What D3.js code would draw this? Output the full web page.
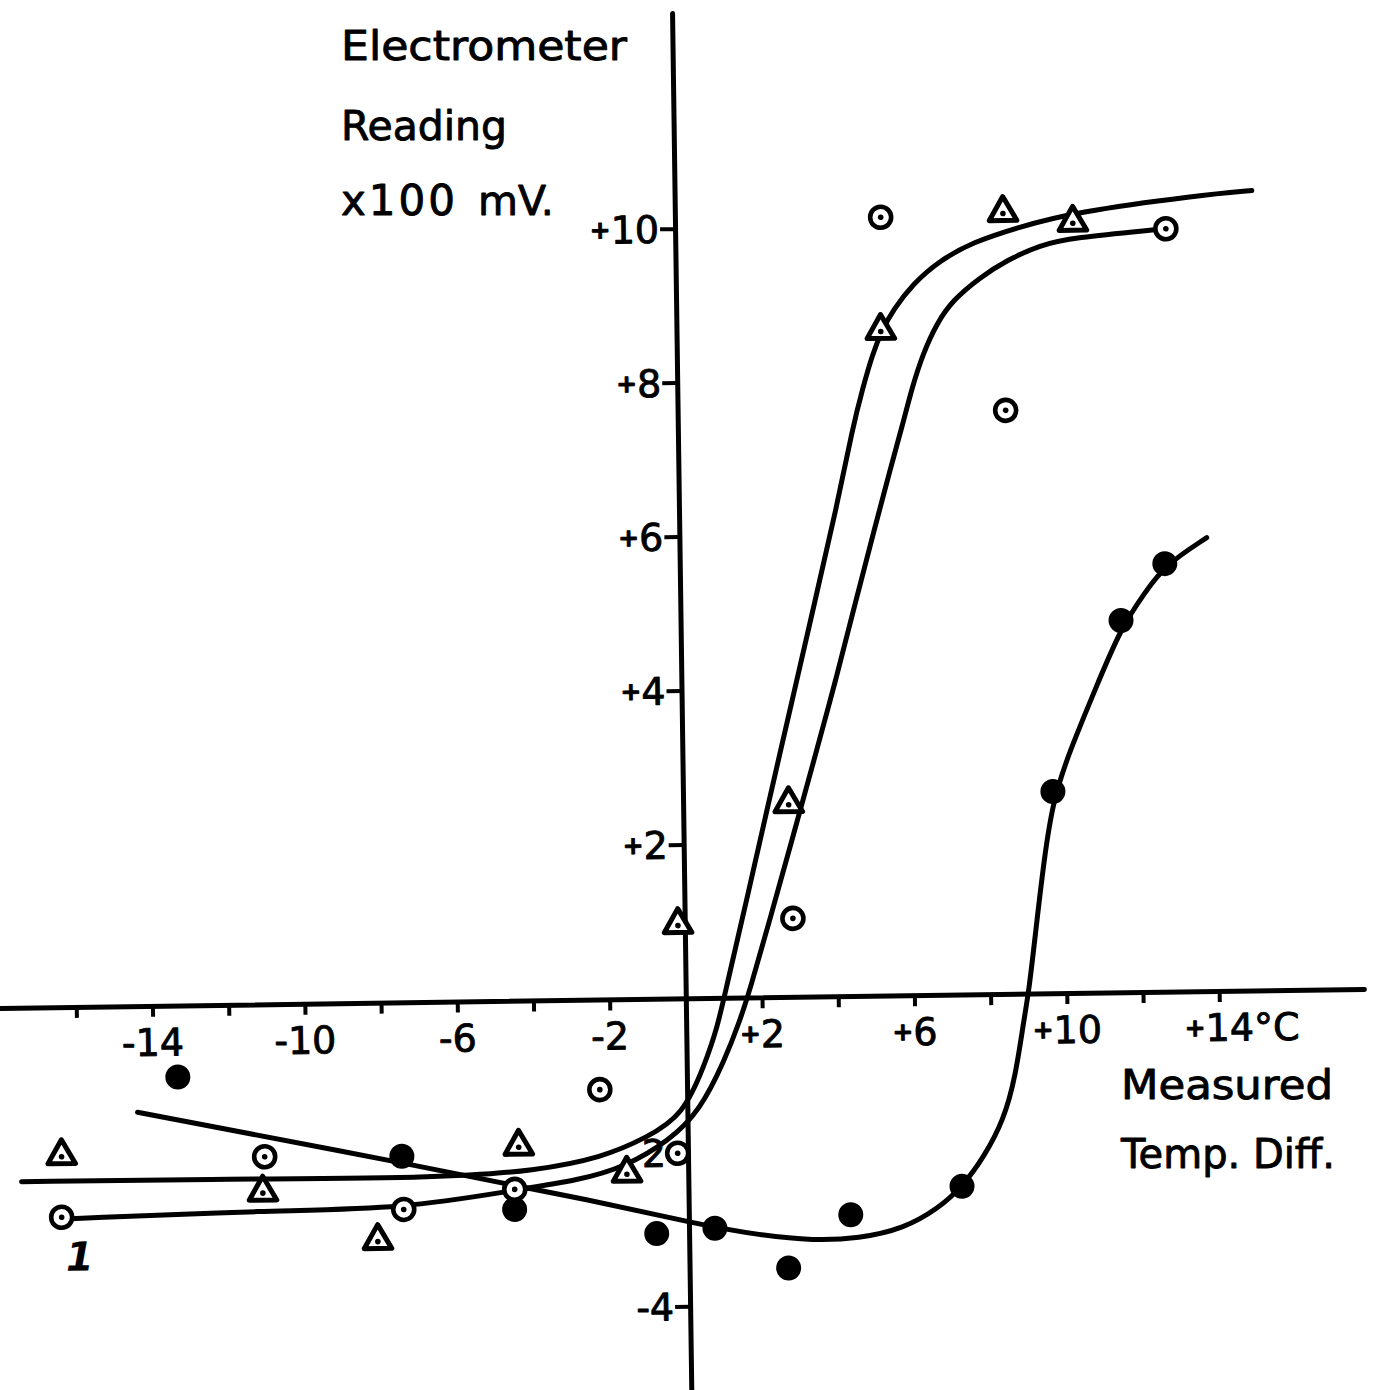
<!DOCTYPE html>
<html>
<head>
<meta charset="utf-8">
<script src="https://cdn.jsdelivr.net/npm/d3@7"></script>
<style>
  html, body { margin: 0; padding: 0; background: #fff; }
  svg { display: block; }
</style>
</head>
<body>
<svg id="chart" width="1373" height="1390"></svg>
<script>
// Electrometer reading (x100 mV) against measured temperature difference (°C)

// Triangle series
const triT = [-16.44, -11.17, -8.17, -4.44, -1.61, -0.18, 2.77, 5.36, 8.61, 10.44];
const triV = [-1.93, -2.44, -3.09, -1.89, -2.26, 0.96, 2.51, 8.64, 10.15, 10.01];

// Open-circle series
const ringT = [-16.46, -11.11, -7.48, -4.56, -2.29, -0.27, 2.84, 5.40, 8.61, 12.88];
const ringV = [-2.73, -1.98, -2.69, -2.45, -1.17, -2.01, 1.02, 10.11, 7.58, 9.91];

// Filled-circle series
const dotT = [-13.36, -7.51, -4.57, -0.85, 0.68, 2.60, 4.25, 7.18, 9.71, 11.56, 12.73];
const dotV = [-0.93, -2.00, -2.71, -3.05, -2.99, -3.52, -2.84, -2.49, 2.62, 4.83, 5.56];

// Hand-drawn fitted curves (points along each curve)
const fitA_T = [-17.50, -12.82, -6.37, -4.00, -2.24, -1.07, -0.12, 0.47, 0.83, 1.05, 1.63, 2.26, 2.90, 3.54, 4.12, 4.59, 4.87, 5.14, 5.39, 5.69, 6.22, 6.94, 7.81, 8.97, 10.45, 13.79, 15.15];
const fitA_V = [-2.26, -2.26, -2.29, -2.21, -2.05, -1.80, -1.52, -0.87, -0.36, 0.10, 1.26, 2.56, 3.85, 5.15, 6.31, 7.39, 7.90, 8.34, 8.64, 8.90, 9.24, 9.54, 9.77, 9.95, 10.14, 10.34, 10.39];

const fitB_T = [-16.22, -11.05, -7.48, -4.56, -2.85, -1.66, -0.47, 0.33, 1.00, 1.41, 1.68, 2.23, 2.84, 3.45, 4.05, 4.61, 5.11, 5.55, 5.91, 6.16, 6.46, 6.83, 7.26, 7.98, 8.70, 9.57, 10.44, 12.64];
const fitB_V = [-2.75, -2.68, -2.68, -2.46, -2.34, -2.18, -1.84, -1.46, -0.81, -0.30, 0.09, 1.00, 2.03, 3.07, 4.10, 5.14, 6.04, 6.82, 7.43, 7.89, 8.33, 8.72, 9.02, 9.31, 9.53, 9.72, 9.81, 9.90];

const fitC_T = [-14.43, -7.04, -2.33, 0.28, 1.86, 3.27, 4.45, 5.64, 6.56, 7.18, 7.76, 8.30, 8.63, 8.86, 9.01, 9.21, 9.45, 9.71, 10.17, 10.85, 11.55, 12.20, 12.73, 13.84];
const fitC_V = [-1.38, -2.13, -2.63, -2.94, -3.09, -3.17, -3.15, -3.03, -2.77, -2.50, -2.12, -1.64, -1.06, -0.35, 0.04, 0.82, 1.73, 2.51, 3.15, 3.93, 4.73, 5.19, 5.54, 5.89];

// Axis ticks and labels
const xTickVals = [-16, -14, -12, -10, -8, -6, -4, -2, 2, 4, 6, 8, 10, 12, 14];
const xLabelVals = [-14, -10, -6, -2, 2, 6, 10, 14];
const xLabelText = ["-14", "-10", "-6", "-2", "+2", "+6", "+10", "+14°C"];
const yTickVals = [10, 8, 6, 4, 2, -2, -4];
const yLabelText = ["+10", "+8", "+6", "+4", "+2", "2", "-4"];

const yTitleLines = ["Electrometer", "Reading"];
const yUnitParts = ["x100", "mV."];
const xTitleLines = ["Measured", "Temp. Diff."];
const seriesTag = "1";

const FONT = "'DejaVu Sans', 'Liberation Sans', sans-serif";
const INK = "#000";

const svg = d3.select("#chart");
svg.append("rect").attr("width", 1373).attr("height", 1390).attr("fill", "#fff");

const x = d3.scaleLinear().domain([-18, 17.8]).range([0, 1364]);
const y = d3.scaleLinear().domain([-5.1, 12.8]).range([1391, 13]);

// the plotted frame sits slightly rotated on the sheet
const plot = svg.append("g")
  .attr("transform", `rotate(-0.8, ${x(0)}, ${y(0)})`);

// axes
const xAxis = plot.append("g")
  .attr("transform", `translate(0,${y(0)})`)
  .call(d3.axisBottom(x).tickValues(xTickVals).tickSize(11).tickSizeOuter(0).tickFormat(() => ""));
const yAxis = plot.append("g")
  .attr("transform", `translate(${x(0)},0)`)
  .call(d3.axisLeft(y).tickValues(yTickVals).tickSize(15).tickSizeOuter(0).tickFormat(() => ""));
[xAxis, yAxis].forEach(a => {
  a.select(".domain").attr("stroke", INK).attr("stroke-width", 5).attr("stroke-linecap", "round");
  a.selectAll(".tick line").attr("stroke", INK).attr("stroke-width", 4);
  a.selectAll(".tick text").remove();
});

// lettering style: slightly heavier than the regular face
function letter(sel) {
  return sel.attr("font-family", FONT).attr("fill", INK)
    .attr("stroke", INK).attr("stroke-width", 0.9).attr("stroke-linejoin", "round");
}

// label builder: a small bold plus sign ahead of the digits
function fillLabel(sel, txt) {
  sel.text(null);
  if (txt.startsWith("+")) {
    sel.append("tspan").attr("font-size", 25).attr("font-weight", "bold").attr("dy", -5).text("+");
    sel.append("tspan").attr("dy", 5).text(txt.slice(1));
  } else {
    sel.text(txt);
  }
}

const xLabels = letter(plot.append("g")).attr("font-size", 38);
xLabelVals.forEach((v, i) => {
  const t = xLabels.append("text").attr("y", y(0) + 50);
  if (xLabelText[i].includes("°")) {
    t.attr("x", x(v) - 35).attr("text-anchor", "start");
  } else {
    t.attr("x", x(v)).attr("text-anchor", "middle");
  }
  fillLabel(t, xLabelText[i]);
});

const yLabels = letter(plot.append("g")).attr("font-size", 38);
yTickVals.forEach((v, i) => {
  const t = yLabels.append("text")
    .attr("x", x(0) - (v === -2 ? 22 : 16))
    .attr("y", y(v) + 14)
    .attr("text-anchor", "end");
  fillLabel(t, yLabelText[i]);
});

// fitted curves
const line = d3.line()
  .x(d => x(d[0])).y(d => y(d[1]))
  .curve(d3.curveBasis);
const curves = [
  d3.zip(fitA_T, fitA_V),
  d3.zip(fitB_T, fitB_V),
  d3.zip(fitC_T, fitC_V)
];
plot.append("g").selectAll("path")
  .data(curves)
  .join("path")
  .attr("d", line)
  .attr("fill", "none")
  .attr("stroke", INK)
  .attr("stroke-width", 5)
  .attr("stroke-linecap", "round")
  .attr("stroke-linejoin", "round");

// filled circles
plot.append("g").selectAll("circle")
  .data(d3.zip(dotT, dotV))
  .join("circle")
  .attr("cx", d => x(d[0])).attr("cy", d => y(d[1]))
  .attr("r", 12.5)
  .attr("fill", INK);

// triangles with a centre dot
const triSym = d3.symbol().type(d3.symbolTriangle).size(330);
const triG = plot.append("g").selectAll("g")
  .data(d3.zip(triT, triV))
  .join("g")
  .attr("transform", d => `translate(${x(d[0])},${y(d[1])})`);
triG.append("path")
  .attr("d", triSym())
  .attr("fill", "#fff")
  .attr("stroke", INK)
  .attr("stroke-width", 5)
  .attr("stroke-linejoin", "round");
triG.append("circle").attr("r", 2.8).attr("cy", 1).attr("fill", INK);

// open circles with a centre dot
const ringG = plot.append("g").selectAll("g")
  .data(d3.zip(ringT, ringV))
  .join("g")
  .attr("transform", d => `translate(${x(d[0])},${y(d[1])})`);
ringG.append("circle")
  .attr("r", 10.5)
  .attr("fill", "#fff")
  .attr("stroke", INK)
  .attr("stroke-width", 4.6);
ringG.append("circle").attr("r", 2.8).attr("fill", INK);

// hand-written series number beside the first open circle
plot.append("text")
  .attr("x", x(-16.0)).attr("y", y(-3.23) + 15)
  .attr("text-anchor", "middle")
  .attr("font-family", FONT)
  .attr("font-size", 40)
  .attr("font-style", "italic")
  .attr("font-weight", "bold")
  .attr("fill", INK)
  .text(seriesTag);

// axis titles
const yTitle = letter(svg.append("g")).attr("font-size", 41);
const yTitleWidths = [286, 166];
const yTitleBase = [60, 140];
yTitleLines.forEach((s, i) => {
  yTitle.append("text")
    .attr("x", 341).attr("y", yTitleBase[i])
    .attr("textLength", yTitleWidths[i]).attr("lengthAdjust", "spacingAndGlyphs")
    .text(s);
});
const unit = yTitle.append("text").attr("y", 215);
unit.append("tspan").attr("x", 341).attr("letter-spacing", 3).attr("font-size", 42).text(yUnitParts[0]);
unit.append("tspan").attr("x", 478).text(yUnitParts[1]);

const xTitle = letter(svg.append("g")).attr("font-size", 41);
const xTitleWidths = [212, 214];
const xTitleBase = [1099, 1168];
xTitleLines.forEach((s, i) => {
  xTitle.append("text")
    .attr("x", 1121).attr("y", xTitleBase[i])
    .attr("textLength", xTitleWidths[i]).attr("lengthAdjust", "spacingAndGlyphs")
    .text(s);
});
</script>
</body>
</html>
